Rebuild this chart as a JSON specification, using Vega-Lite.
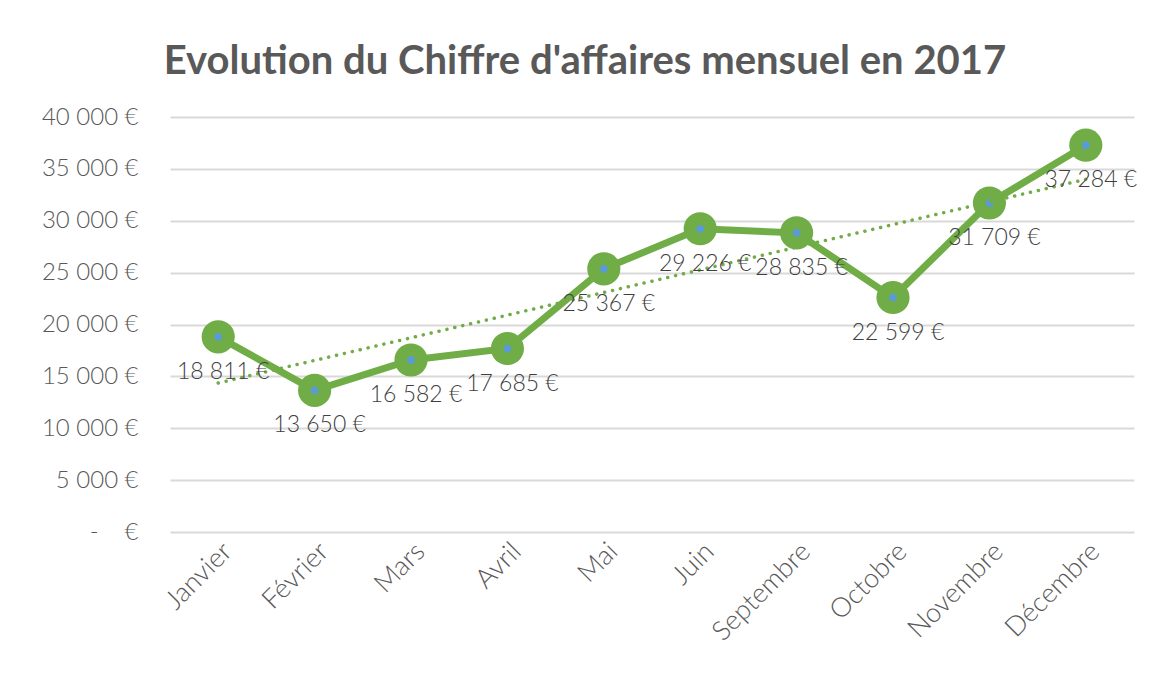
{
  "$schema": "https://vega.github.io/schema/vega-lite/v6.json",
  "autosize": "none",
  "width": 964,
  "height": 415,
  "padding": {"left": 170, "top": 117, "right": 17, "bottom": 152},
  "background": "white",
  "title": {
    "text": "Evolution du Chiffre d'affaires mensuel en 2017",
    "font": "Lato",
    "fontSize": 40,
    "fontWeight": "bold",
    "color": "#595959",
    "anchor": "middle",
    "dx": -67,
    "offset": 23
  },
  "data": {
    "values": [
      {"month": "Janvier", "ca": 18811},
      {"month": "Février", "ca": 13650},
      {"month": "Mars", "ca": 16582},
      {"month": "Avril", "ca": 17685},
      {"month": "Mai", "ca": 25367},
      {"month": "Juin", "ca": 29226},
      {"month": "Septembre", "ca": 28835},
      {"month": "Octobre", "ca": 22599},
      {"month": "Novembre", "ca": 31709},
      {"month": "Décembre", "ca": 37284}
    ]
  },
  "config": {
    "view": {"stroke": null},
    "font": "Lato"
  },
  "encoding": {
    "y": {
      "field": "ca",
      "type": "quantitative",
      "scale": {"domain": [0, 40000], "nice": false, "zero": true},
      "axis": {
        "title": null,
        "values": [0, 5000, 10000, 15000, 20000, 25000, 30000, 35000, 40000],
        "labelExpr": "datum.value == 0 ? '-\u00a0\u00a0\u00a0\u00a0€' : replace(format(datum.value, ',d'), ',', '\u00a0') + '\u00a0€'",
        "labelFont": "Lato",
        "labelFontSize": 24,
        "labelFontWeight": 300,
        "labelColor": "#595959",
        "labelPadding": 32,
        "ticks": false,
        "domain": false,
        "grid": true,
        "gridColor": "#d9d9d9",
        "gridWidth": 2
      }
    }
  },
  "layer": [
    {
      "encoding": {
        "x": {
          "field": "month",
          "type": "ordinal",
          "sort": null,
          "scale": {"type": "point", "padding": 0.5},
          "axis": {
            "title": null,
            "labelAngle": -45,
            "labelFont": "Lato",
            "labelFontSize": 27,
            "labelFontWeight": 300,
            "labelColor": "#595959",
            "labelPadding": 6,
            "ticks": false,
            "domain": false,
            "grid": false
          }
        }
      },
      "layer": [
        {
          "mark": {"type": "line", "color": "#70AD47", "strokeWidth": 7}
        },
        {
          "mark": {"type": "point", "shape": "circle", "filled": true, "color": "#70AD47", "opacity": 1, "size": 1100}
        },
        {
          "mark": {"type": "point", "shape": "circle", "filled": true, "color": "#5B9BD5", "opacity": 1, "size": 60}
        }
      ]
    },
    {
      "transform": [
        {"window": [{"op": "row_number", "as": "idx"}]},
        {"regression": "ca", "on": "idx"}
      ],
      "mark": {"type": "line", "color": "#70AD47", "strokeWidth": 3.5, "strokeDash": [0.1, 8], "strokeCap": "round"},
      "encoding": {
        "x": {
          "field": "idx",
          "type": "quantitative",
          "scale": {"domain": [0.5, 10.5], "nice": false, "zero": false},
          "axis": null
        }
      }
    },
    {
      "transform": [
        {"window": [{"op": "row_number", "as": "idx"}]},
        {"calculate": "replace(format(datum.ca, ',d'), ',', '\u00a0') + '\u00a0€'", "as": "label"}
      ],
      "mark": {"type": "text", "font": "Lato", "fontSize": 23, "fontWeight": 300, "color": "#404040", "dx": 5, "dy": 35, "align": "center", "baseline": "middle"},
      "encoding": {
        "x": {
          "field": "idx",
          "type": "quantitative",
          "scale": {"domain": [0.5, 10.5], "nice": false, "zero": false},
          "axis": null
        },
        "text": {"field": "label"}
      }
    }
  ],
  "resolve": {"scale": {"x": "independent"}, "axis": {"x": "independent"}}
}
